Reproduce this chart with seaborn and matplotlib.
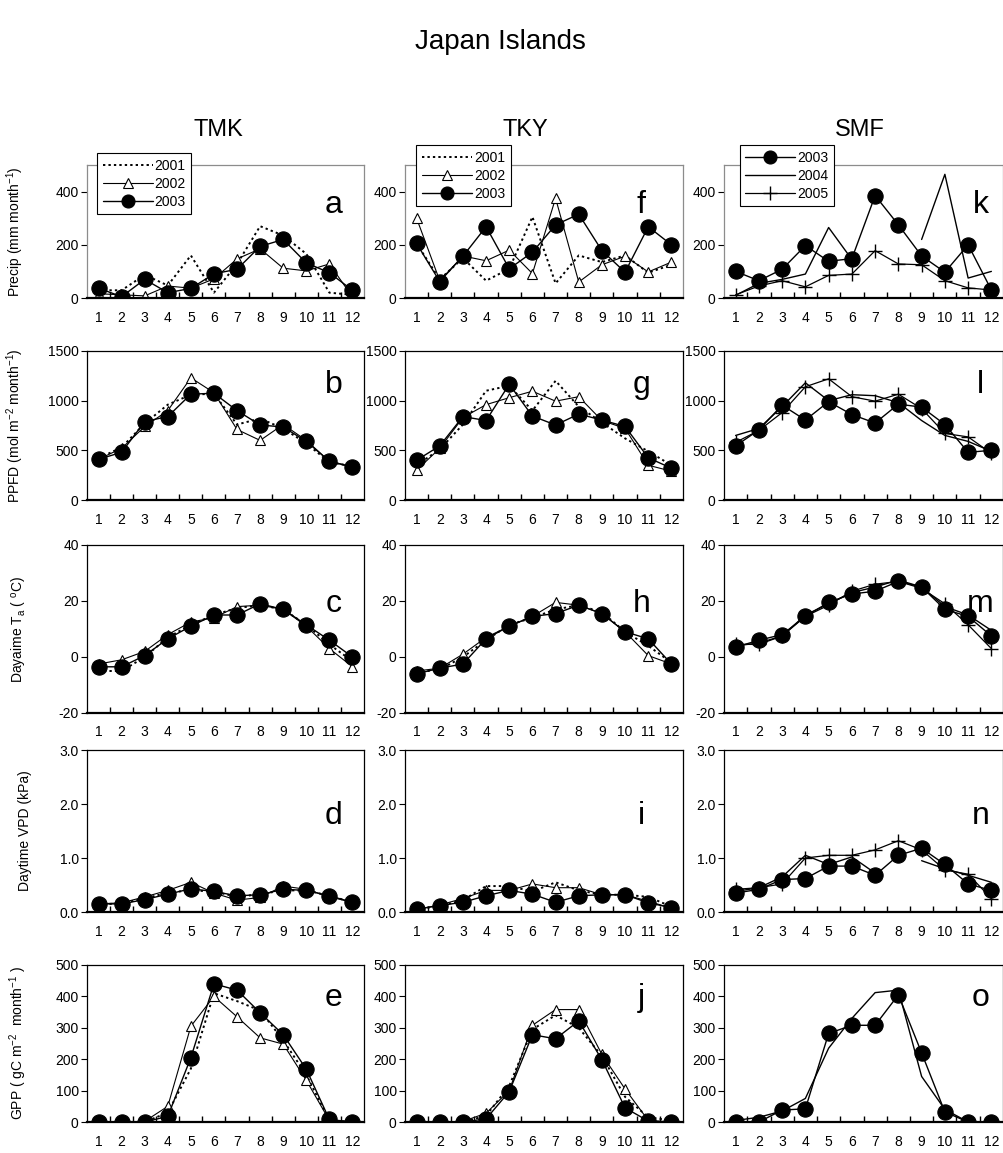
import numpy as np
import pandas as pd
import matplotlib
matplotlib.use("Agg")
import matplotlib.pyplot as plt
from matplotlib.lines import Line2D
import seaborn as sns

sns.set_style("white")
plt.rcParams['font.family'] = ['Liberation Sans', 'DejaVu Sans']
plt.rcParams['mathtext.fontset'] = 'custom'
plt.rcParams['mathtext.rm'] = 'Liberation Sans'
plt.rcParams['mathtext.it'] = 'Liberation Sans:italic'
plt.rcParams['axes.unicode_minus'] = False
for key in ['text.color', 'axes.labelcolor', 'xtick.color', 'ytick.color']:
    plt.rcParams[key] = 'k'

nan = np.nan
months = list(range(1, 13))
month_labels = [str(m) for m in months]

sites = ['TMK', 'TKY', 'SMF']
years_jp = ['2001', '2002', '2003']
years_smf = ['2003', '2004', '2005']

# ---- TMK ----
tmk_precip = {
    '2001': [29, 29, 87, 47, 160, 20, 128, 270, 235, 166, 20, 12],
    '2002': [16, 12, 8, 45, 37, 72, 147, 185, 112, 102, 128, 4],
    '2003': [37, 5, 70, 20, 36, 91, 108, 194, 220, 132, 95, 29],
}
tmk_ppfd = {
    '2001': [420, 530, 770, 960, 1060, 1070, 760, 820, 720, 570, 380, 340],
    '2002': [410, 520, 740, 900, 1230, 1080, 710, 600, 760, 600, 390, 335],
    '2003': [410, 480, 790, 840, 1065, 1075, 900, 755, 735, 590, 390, 330],
}
tmk_ta = {
    '2001': [-5, -5, 0, 7, 11.5, 15, 17.5, 18.5, 17, 11.5, 4.5, -1.5],
    '2002': [-2.5, -1, 2, 8, 12.5, 14, 18, 18.5, 17, 11, 3, -3.5],
    '2003': [-3.5, -3.5, 0.5, 6.5, 11, 15, 15, 19, 17, 11.5, 6, 0],
}
tmk_vpd = {
    '2001': [0.14, 0.16, 0.25, 0.36, 0.40, 0.38, 0.28, 0.33, 0.40, 0.40, 0.30, 0.18],
    '2002': [0.15, 0.17, 0.28, 0.40, 0.55, 0.35, 0.22, 0.27, 0.48, 0.42, 0.28, 0.18],
    '2003': [0.15, 0.15, 0.23, 0.33, 0.43, 0.38, 0.30, 0.32, 0.42, 0.40, 0.30, 0.18],
}
tmk_gpp = {
    '2001': [0, 0, 0, 30, 170, 410, 385, 355, 260, 150, 5, 0],
    '2002': [0, 0, 2, 50, 305, 400, 335, 268, 248, 133, 5, 0],
    '2003': [0, 0, 0, 18, 205, 440, 420, 348, 278, 168, 8, 0],
}

# ---- TKY ----
tky_precip = {
    '2001': [205, 70, 150, 65, 110, 305, 55, 160, 135, 160, 95, 125],
    '2002': [300, 65, 158, 140, 180, 92, 375, 60, 125, 157, 98, 135],
    '2003': [205, 62, 157, 268, 110, 172, 275, 315, 178, 97, 268, 200],
}
tky_ppfd = {
    '2001': [350, 510, 760, 1100, 1150, 900, 1200, 940, 780, 620, 490, 350],
    '2002': [300, 520, 830, 960, 1030, 1095, 995, 1040, 800, 720, 350, 290],
    '2003': [400, 545, 840, 800, 1165, 845, 755, 865, 805, 740, 425, 320],
}
tky_ta = {
    '2001': [-5.5, -4.5, 0, 6, 11.5, 14, 17, 18.5, 16, 9, 4, -2],
    '2002': [-5, -4, 1, 7, 11, 14.5, 19.5, 18.5, 15.5, 9, 0.5, -2.5],
    '2003': [-6, -4, -2.5, 6.5, 11, 14.5, 15.5, 18.5, 15.5, 9, 6.5, -2.5],
}
tky_vpd = {
    '2001': [0.05, 0.11, 0.22, 0.48, 0.48, 0.38, 0.55, 0.40, 0.32, 0.32, 0.28, 0.10],
    '2002': [0.05, 0.13, 0.25, 0.40, 0.40, 0.52, 0.45, 0.45, 0.32, 0.32, 0.20, 0.07],
    '2003': [0.05, 0.12, 0.18, 0.30, 0.40, 0.33, 0.18, 0.30, 0.32, 0.32, 0.17, 0.08],
}
tky_gpp = {
    '2001': [0, 0, 0, 20, 115, 295, 340, 300, 210, 80, 15, 5],
    '2002': [0, 0, 2, 28, 100, 308, 358, 358, 215, 105, 5, 0],
    '2003': [0, 0, 0, 10, 97, 278, 265, 322, 198, 45, 3, 0],
}

# ---- SMF ----
smf_precip = {
    '2003': [100, 65, 108, 197, 138, 148, 385, 275, 158, 97, 200, 30],
    '2004': [10, 55, 70, 90, 265, 145, nan, nan, 220, 465, 75, 100],
    '2005': [12, 45, 65, 42, 85, 90, 178, 128, 125, 65, 38, 30],
}
smf_ppfd = {
    '2003': [545, 705, 955, 805, 990, 860, 775, 965, 935, 760, 480, 500],
    '2004': [650, 720, 940, 1180, 1000, 1060, 1050, 980, 800, 650, 590, 490],
    '2005': [580, 700, 880, 1140, 1220, 1040, 995, 1065, 920, 670, 635, 470],
}
smf_ta = {
    '2003': [3.5, 6, 8, 14.5, 19.5, 22.5, 23.5, 27, 25, 17, 14.5, 7.5],
    '2004': [4, 5, 7.5, 15, 19, 23, 25, 27.5, 25, 18, 15, 9.5],
    '2005': [4.5, 4.5, 7.5, 14.5, 18.5, 23.5, 26, 27, 24.5, 19, 11.5, 3],
}
smf_vpd = {
    '2003': [0.35, 0.42, 0.60, 0.62, 0.85, 0.85, 0.68, 1.05, 1.18, 0.88, 0.52, 0.40],
    '2004': [0.38, 0.45, 0.65, 1.05, 0.88, 1.02, 0.72, nan, 0.95, 0.80, 0.68, 0.55],
    '2005': [0.42, 0.45, 0.52, 1.00, 1.05, 1.05, 1.15, 1.32, 1.15, 0.78, 0.70, 0.25],
}
smf_gpp = {
    '2003': [0, 0, 38, 42, 282, 308, 308, 405, 220, 32, 0, 0],
    '2004': [5, 15, 35, 75, 235, 330, 412, 420, 145, 40, 0, 0],
}

panels = [
    [tmk_precip, tmk_ppfd, tmk_ta, tmk_vpd, tmk_gpp],
    [tky_precip, tky_ppfd, tky_ta, tky_vpd, tky_gpp],
    [smf_precip, smf_ppfd, smf_ta, smf_vpd, smf_gpp],
]
letters = [list('abcde'), list('fghij'), list('klmno')]

row_ylabels = [
    r'Precip (mm month$^\mathregular{-1}$)',
    r'PPFD (mol m$^\mathregular{-2}$ month$^\mathregular{-1}$)',
    r'Dayaime T$_\mathregular{a}$ ( $^\mathregular{o}$C)',
    r'Daytime VPD (kPa)',
    r'GPP ( gC m$^\mathregular{-2}$  month$^\mathregular{-1}$ )',
]
row_ylim = [(0, 500), (0, 1500), (-20, 40), (0, 3), (0, 500)]
row_yticks = [[0, 200, 400], [0, 500, 1000, 1500], [-20, 0, 20, 40],
              [0, 1, 2, 3], [0, 100, 200, 300, 400, 500]]

# series styles
styles = {
    '2001': dict(ls=(0, (1.2, 1.6)), lw=1.4, marker=None),
    '2002': dict(ls='-', lw=0.8, marker='^', ms=6.5, mfc='white', mec='k', mew=0.8),
    '2003': dict(ls='-', lw=1.0, marker='o', ms=11, mfc='k', mec='k'),
    '2004': dict(ls='-', lw=1.0, marker=None),
    '2005': dict(ls='-', lw=0.9, marker='+', ms=10, mec='k', mew=1.0),
}

W, H = 1004, 1153
col_x = [(87, 277), (405, 278), (724, 279)]
row_y = [(165, 298), (351, 500), (545, 713), (750, 912), (965, 1122)]
ylabel_x = [26, 26, 29, 32, 29]
letter_xf = [0.89, 0.85, 0.92]
letter_yf = [0.70, 0.77, 0.65, 0.59, 0.79]

fig = plt.figure(figsize=(W / 100, H / 100), dpi=100)

for c in range(3):
    for r in range(5):
        x0, w = col_x[c]
        top, bot = row_y[r]
        ax = fig.add_axes([x0 / W, 1 - bot / H, w / W, (bot - top) / H])
        data = panels[c][r]
        for yr, vals in data.items():
            st = styles[yr]
            v = np.array(vals, dtype=float)
            seg = np.cumsum(np.isnan(v))
            df = pd.DataFrame({'month': months, 'val': v, 'seg': seg}).dropna()
            kw = dict(color='k', linestyle=st['ls'], linewidth=st['lw'])
            if st['marker']:
                kw.update(marker=st['marker'], markersize=st['ms'],
                          markeredgecolor=st['mec'],
                          markeredgewidth=st.get('mew', 0.8))
                if 'mfc' in st:
                    kw['markerfacecolor'] = st['mfc']
            sns.lineplot(data=df, x='month', y='val', units='seg', estimator=None,
                         ax=ax, legend=False, zorder=3 if yr == '2003' else 2, **kw)
        ax.set_xlim(0.5, 12.5)
        ax.set_ylim(*row_ylim[r])
        ax.set_yticks(row_yticks[r])
        if r == 3:
            ax.set_yticklabels(['%.1f' % t for t in row_yticks[r]])
        ax.set_xticks(months)
        ax.set_xticklabels(month_labels)
        ax.set_xticks(np.arange(1.5, 12, 1), minor=True)
        ax.tick_params(axis='x', which='major', length=0, pad=9, labelsize=10)
        ax.tick_params(axis='x', which='minor', direction='in', length=4, width=1, bottom=True)
        ax.tick_params(axis='y', which='major', direction='out', length=4, width=0.8,
                       pad=2, labelsize=10, left=True)
        ax.set_xlabel('')
        ax.set_ylabel('')
        for s in ['top', 'left', 'right']:
            ax.spines[s].set_linewidth(0.9)
            ax.spines[s].set_color('#8c8c8c' if r == 0 else 'k')
        ax.spines['bottom'].set_linewidth(1.6)
        ax.spines['bottom'].set_color('k')
        ax.text(letter_xf[c], letter_yf[r], letters[c][r], transform=ax.transAxes,
                fontsize=23, ha='center', va='center')
        if c == 0:
            ax.set_ylabel(row_ylabels[r], fontsize=10)
            ax.yaxis.set_label_coords((ylabel_x[r] - x0) / w, 0.5)
        if r == 0:
            yrs = years_smf if c == 2 else years_jp
            handles = []
            for yr in yrs:
                st = styles[yr]
                hk = dict(color='k', linestyle=st['ls'], linewidth=st['lw'])
                if st['marker']:
                    hk.update(marker=st['marker'], markersize=st['ms'] * (0.85 if yr == '2003' else 1),
                              markeredgecolor=st['mec'], markeredgewidth=st.get('mew', 0.8))
                    if 'mfc' in st:
                        hk['markerfacecolor'] = st['mfc']
                handles.append(Line2D([], [], **hk))
            anchor = [(0.036, 1.09), (0.04, 1.15), (0.057, 1.15)][c]
            leg = ax.legend(handles, yrs, loc='upper left', bbox_to_anchor=anchor,
                            borderaxespad=0, fontsize=10, handlelength=3.6,
                            handletextpad=0.15, labelspacing=0.3, borderpad=0.4,
                            fancybox=False, framealpha=1, edgecolor='k')
            leg.get_frame().set_linewidth(0.8)

fig.text(500 / W, 1 - 42 / H, 'Japan Islands', fontsize=20, ha='center', va='center')
for name, xc in zip(sites, [218, 525, 860]):
    fig.text(xc / W, 1 - 130 / H, name, fontsize=17, ha='center', va='center')

fig.savefig('out.png', dpi=100)
